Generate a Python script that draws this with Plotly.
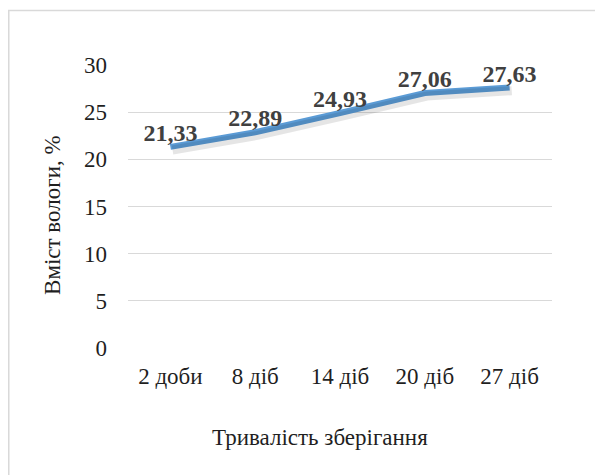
import plotly.graph_objects as go

categories = ["2 доби", "8 діб", "14 діб", "20 діб", "27 діб"]
moisture = [21.33, 22.89, 24.93, 27.06, 27.63]
y_ticks = [0, 5, 10, 15, 20, 25, 30]
x_title = "Тривалість зберігання"
y_title = "Вміст вологи, %"

labels = [f"{v:.2f}".replace(".", ",") for v in moisture]
FONT = "Liberation Serif, Times New Roman, serif"

fig = go.Figure()
# soft shadow of the line (same data, slightly offset axes)
fig.add_trace(go.Scatter(
    x=list(range(len(categories))), y=moisture, mode="lines",
    line=dict(color="rgba(0,0,0,0.10)", width=9),
    xaxis="x2", yaxis="y2", hoverinfo="skip", showlegend=False,
))
fig.add_trace(go.Scatter(
    x=categories, y=moisture, mode="lines+text",
    line=dict(color="#5B9BD5", width=6),
    text=labels, textposition="top center",
    textfont=dict(family=FONT, size=24, color="#404040", weight="bold"),
    showlegend=False,
))

fig.update_layout(
    width=603, height=475,
    margin=dict(l=120, r=59, t=57, b=135),
    paper_bgcolor="white", plot_bgcolor="white",
    font=dict(family=FONT, size=23, color="#1f1f1f"),
    xaxis=dict(
        type="category", categoryorder="array", categoryarray=categories,
        showgrid=False, showline=False, zeroline=False,
        ticks="", ticklabelstandoff=12,
        tickfont=dict(family=FONT, size=23, color="#1f1f1f"),
        range=[-0.5, 4.5],
    ),
    yaxis=dict(
        range=[-0.03, 30.03], tickvals=y_ticks,
        showgrid=True, gridcolor="#d9d9d9", gridwidth=1.3,
        zeroline=False, showline=False, ticks="",
        ticklabelstandoff=20,
        tickfont=dict(family=FONT, size=23, color="#1f1f1f"),
    ),
    xaxis2=dict(overlaying="x", range=[-0.5 - 0.025, 4.5 - 0.025], visible=False),
    yaxis2=dict(overlaying="y", range=[0.3, 30.36], visible=False),
    annotations=[
        dict(text=x_title, xref="paper", yref="paper", x=0.453, y=-0.3145,
             xanchor="center", yanchor="middle", showarrow=False,
             font=dict(family=FONT, size=23, color="#1f1f1f")),
        dict(text=y_title, xref="paper", yref="paper", x=-0.177, y=0.47,
             xanchor="center", yanchor="middle", showarrow=False, textangle=-90,
             font=dict(family=FONT, size=23, color="#1f1f1f")),
    ],
    shapes=[
        dict(type="rect", xref="paper", yref="paper",
             x0=-0.2812, y0=-0.6, x1=1.3, y1=1.1926,
             line=dict(color="#d9d9d9", width=1.5), layer="below"),
    ],
)

fig.write_html("out.html")
